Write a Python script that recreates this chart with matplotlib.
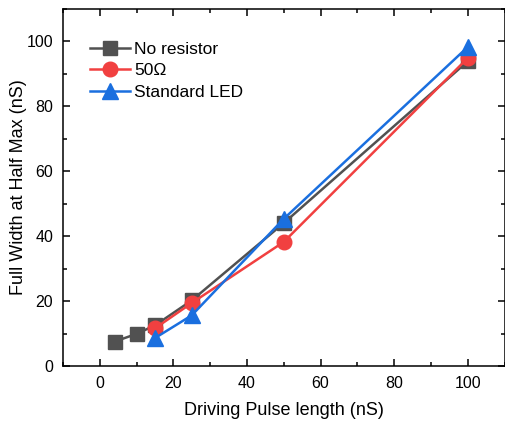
import matplotlib
matplotlib.use("Agg")
import matplotlib.pyplot as plt
from matplotlib.ticker import MultipleLocator

plt.rcParams['font.family'] = ['Liberation Sans', 'DejaVu Sans']

# data
x_nores = [4, 10, 15, 25, 50, 100]
y_nores = [7.5, 9.9, 12.5, 20.2, 44.0, 93.8]

x_50 = [15, 25, 50, 100]
y_50 = [11.6, 19.4, 38.2, 94.8]

x_led = [15, 25, 50, 100]
y_led = [8.6, 15.6, 45.3, 98.2]

labels = ['No resistor', '50\u03a9', 'Standard LED']
colors = ['#515151', '#F14040', '#1A6FDF']

fig = plt.figure(figsize=(5.05, 4.21), dpi=100)
ax = fig.add_axes([63 / 505, 55 / 421, 441.5 / 505, 357.3 / 421])

ax.plot(x_nores, y_nores, color=colors[0], marker='s', ms=9.5, lw=1.8, label=labels[0])
ax.plot(x_50, y_50, color=colors[1], marker='o', ms=10.5, lw=1.8, label=labels[1])
ax.plot(x_led, y_led, color=colors[2], marker='^', ms=11.5, lw=1.8, label=labels[2])

ax.set_xlim(-10, 110)
ax.set_ylim(0, 110)
ax.xaxis.set_major_locator(MultipleLocator(20))
ax.xaxis.set_minor_locator(MultipleLocator(10))
ax.yaxis.set_major_locator(MultipleLocator(20))
ax.yaxis.set_minor_locator(MultipleLocator(10))
ax.tick_params(which='both', direction='in', top=True, right=True, width=1.1,
               labelsize=11.5, pad=7)
ax.tick_params(which='major', length=5)
ax.tick_params(which='minor', length=3)
for s in ax.spines.values():
    s.set_linewidth(1.1)

ax.set_xlabel('Driving Pulse length (nS)', fontsize=13, labelpad=8)
ax.set_ylabel('Full Width at Half Max (nS)', fontsize=13, labelpad=0)

ax.legend(loc='upper left', bbox_to_anchor=(0.061, 0.908), frameon=False,
          fontsize=12.5, handlelength=2.3, handletextpad=0.25,
          labelspacing=0.37, borderpad=0, borderaxespad=0)

fig.savefig('out.png', dpi=100)
